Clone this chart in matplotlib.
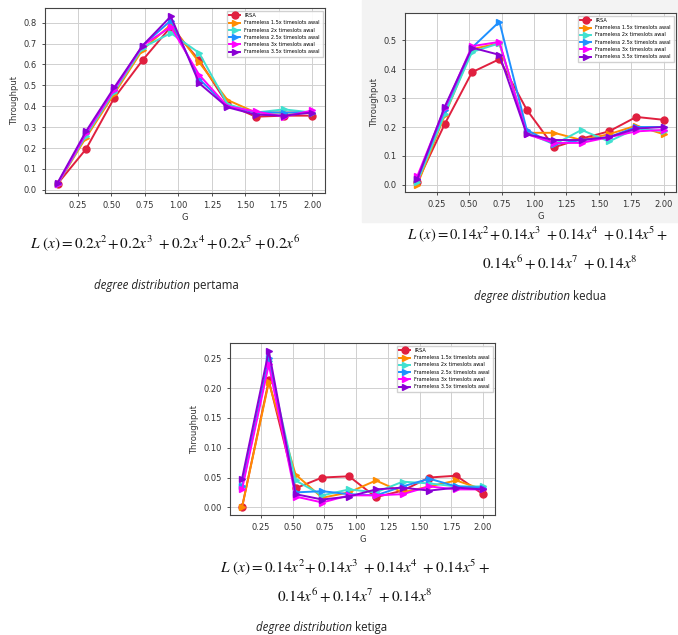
import matplotlib
matplotlib.use("Agg")
import matplotlib.pyplot as plt
from matplotlib.patches import Rectangle

plt.rcParams["mathtext.fontset"] = "stix"

# offered load G
G = [0.1, 0.311, 0.522, 0.733, 0.944, 1.156, 1.367, 1.578, 1.789, 2.0]

labels = [
    "IRSA",
    "Frameless 1.5x timeslots awal",
    "Frameless 2x timeslots awal",
    "Frameless 2.5x timeslots awal",
    "Frameless 3x timeslots awal",
    "Frameless 3.5x timeslots awal",
]
colors = ["#e0203f", "#ff8c00", "#40e0d0", "#1e90ff", "#ff00ff", "#8a00d4"]
markers = ["o", ">", ">", ">", ">", ">"]

# degree distribution pertama
thr_1 = [
    [0.03, 0.195, 0.44, 0.62, 0.78, 0.62, 0.41, 0.35, 0.355, 0.355],
    [0.03, 0.25, 0.46, 0.67, 0.79, 0.61, 0.43, 0.37, 0.37, 0.37],
    [0.03, 0.26, 0.47, 0.68, 0.75, 0.655, 0.41, 0.37, 0.385, 0.37],
    [0.03, 0.27, 0.48, 0.69, 0.81, 0.53, 0.40, 0.37, 0.37, 0.37],
    [0.03, 0.27, 0.48, 0.69, 0.78, 0.55, 0.40, 0.375, 0.35, 0.38],
    [0.035, 0.28, 0.49, 0.69, 0.83, 0.51, 0.395, 0.36, 0.355, 0.37],
]

# degree distribution kedua
thr_2 = [
    [0.01, 0.21, 0.39, 0.435, 0.26, 0.13, 0.16, 0.185, 0.235, 0.225],
    [0.0, 0.24, 0.47, 0.49, 0.18, 0.18, 0.155, 0.175, 0.205, 0.175],
    [0.01, 0.245, 0.46, 0.49, 0.18, 0.14, 0.19, 0.15, 0.195, 0.185],
    [0.02, 0.26, 0.475, 0.565, 0.19, 0.14, 0.155, 0.165, 0.2, 0.2],
    [0.03, 0.265, 0.48, 0.495, 0.175, 0.145, 0.145, 0.165, 0.185, 0.19],
    [0.02, 0.27, 0.475, 0.45, 0.175, 0.155, 0.155, 0.165, 0.195, 0.2],
]

# degree distribution ketiga
thr_3 = [
    [0.0, 0.213, 0.032, 0.05, 0.052, 0.017, 0.028, 0.05, 0.053, 0.022],
    [0.0, 0.21, 0.055, 0.016, 0.025, 0.045, 0.025, 0.035, 0.045, 0.03],
    [0.035, 0.245, 0.045, 0.02, 0.03, 0.025, 0.043, 0.04, 0.035, 0.035],
    [0.035, 0.25, 0.025, 0.027, 0.022, 0.02, 0.035, 0.048, 0.035, 0.033],
    [0.03, 0.24, 0.018, 0.008, 0.02, 0.02, 0.022, 0.035, 0.03, 0.03],
    [0.048, 0.263, 0.022, 0.013, 0.018, 0.03, 0.033, 0.028, 0.033, 0.03],
]

W, H = 678, 635
fig = plt.figure(figsize=(W / 100, H / 100), dpi=100)


def box(x0, y0, x1, y1):
    # pixel box (top-left origin) -> figure coords
    return [x0 / W, 1 - y1 / H, (x1 - x0) / W, (y1 - y0) / H]


# light panel behind the second plot
fig.add_artist(Rectangle((362 / W, 1 - 222 / H), 1 - 362 / W, 222 / H,
                         transform=fig.transFigure, color="#f3f3f3", zorder=-5))


def draw(ax, data, yticks, xlabel=True):
    for y, lab, c, m in zip(data, labels, colors, markers):
        ax.plot(G, y, color=c, marker=m, markersize=5, linewidth=1.4, label=lab)
    ax.set_xticks([0.25, 0.5, 0.75, 1.0, 1.25, 1.5, 1.75, 2.0])
    ax.set_yticks(yticks)
    ax.tick_params(labelsize=6, colors="#333333", length=2.5, width=0.6)
    ax.grid(True, color="#d0d0d0", linewidth=0.7)
    for s in ax.spines.values():
        s.set_color("#444444")
        s.set_linewidth(0.8)
    ax.set_ylabel("Throughput", fontsize=6, color="#333333", labelpad=3)
    if xlabel:
        ax.set_xlabel("G", fontsize=6, color="#333333", labelpad=2)
    ax.legend(loc="upper right", fontsize=3.6, markerscale=1.0, handlelength=2.2,
              borderpad=0.5, labelspacing=0.45, framealpha=0.9, edgecolor="#cccccc",
              fancybox=False)


ax1 = fig.add_axes(box(45, 8, 325, 193))
draw(ax1, thr_1, [0.0, 0.1, 0.2, 0.3, 0.4, 0.5, 0.6, 0.7, 0.8])
ax1.set_xlim(0.005, 2.095)
ax1.set_ylim(-0.015, 0.87)
ax1.set_yticklabels(["0.0", "0.1", "0.2", "0.3", "0.4", "0.5", "0.6", "0.7", "0.8"])

ax2 = fig.add_axes(box(405, 13, 676, 192))
draw(ax2, thr_2, [0.0, 0.1, 0.2, 0.3, 0.4, 0.5])
ax2.set_xlim(0.005, 2.095)
ax2.set_ylim(-0.025, 0.595)
ax2.set_yticklabels(["0.0", "0.1", "0.2", "0.3", "0.4", "0.5"])

ax3 = fig.add_axes(box(230, 343, 495, 515))
draw(ax3, thr_3, [0.0, 0.05, 0.10, 0.15, 0.20, 0.25])
ax3.set_xlim(0.005, 2.095)
ax3.set_ylim(-0.013, 0.276)
ax3.set_yticklabels(["0.00", "0.05", "0.10", "0.15", "0.20", "0.25"])

# captions below each plot
tk = dict(fontsize=11, color="#111111", ha="center", va="center")
f1 = r"$L\ (x) = 0.2x^2\!+ 0.2x^3\ + 0.2x^4 + 0.2x^5 + 0.2x^6$"
f2a = r"$L\ (x) = 0.14x^2\!+ 0.14x^3\ + 0.14x^4\ + 0.14x^5 +$"
f2b = r"$0.14x^6 + 0.14x^7\ + 0.14x^8$"

fig.text(165 / W, 1 - 243 / H, f1, **tk)
fig.text(538 / W, 1 - 234 / H, f2a, fontsize=10.6, color="#111111", ha="center", va="center")
fig.text(560 / W, 1 - 263 / H, f2b, **tk)
fig.text(355 / W, 1 - 567 / H, f2a, **tk)
fig.text(355 / W, 1 - 596 / H, f2b, **tk)


def caption(xc, yc, word):
    fs = 8.3
    fig.text(xc / W, 1 - yc / H, "degree distribution", fontsize=fs, style="italic",
             ha="right", va="center", family="Open Sans", color="#222222")
    fig.text((xc + 3) / W, 1 - yc / H, word, fontsize=fs, ha="left", va="center",
             family="Open Sans", color="#222222")


caption(190, 285, "pertama")
caption(570, 297, "kedua")
caption(352, 627, "ketiga")

fig.savefig("out.png", dpi=100)
